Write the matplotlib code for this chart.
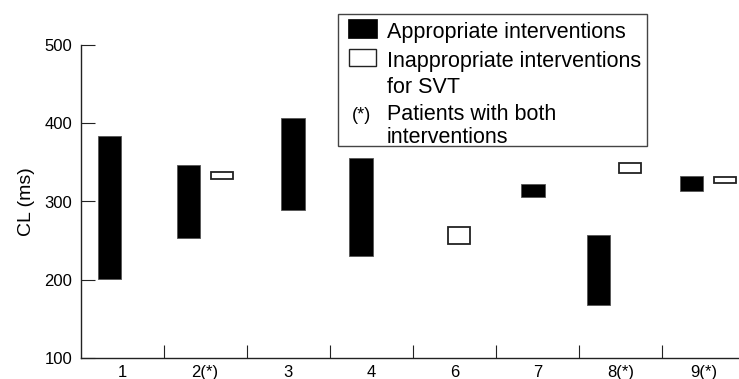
import matplotlib.pyplot as plt
from matplotlib.patches import Rectangle

plt.rcParams["font.family"] = ["Liberation Sans", "DejaVu Sans"]

W, H = 739, 379

categories = ["1", "2(*)", "3", "4", "6", "7", "8(*)", "9(*)"]

# appropriate interventions: (low, high) CL in ms, None where absent
appropriate = [
    (201, 384),
    (253, 346),
    (289, 407),
    (231, 355),
    None,
    (306, 322),
    (168, 257),
    (314, 332),
]
# inappropriate interventions for SVT
inappropriate = [
    None,
    (328.5, 338),
    None,
    None,
    (246, 267),
    None,
    (336, 349),
    (324, 331.5),
]

# horizontal placement of each box inside its patient slot (layout only)
appr_offset = [0.35, 0.30, 0.555, 0.375, None, 0.447, 0.236, 0.354]
inap_offset = [None, 0.706, None, None, 0.553, None, 0.610, 0.758]

fig = plt.figure(figsize=(W / 100, H / 100), dpi=100)
ax = fig.add_axes([80.5 / W, 20.7 / H, 664.5 / W, 313.6 / H])

for i, (rng, off) in enumerate(zip(appropriate, appr_offset)):
    if rng is None:
        continue
    lo, hi = rng
    ax.bar(i + off, hi - lo, bottom=lo, width=0.285, color="black",
           edgecolor="#555555", linewidth=0.6, zorder=3)

for i, (rng, off) in enumerate(zip(inappropriate, inap_offset)):
    if rng is None:
        continue
    lo, hi = rng
    ax.bar(i + off, hi - lo, bottom=lo, width=0.265, color="white",
           edgecolor="#222222", linewidth=1.3, zorder=3)

ax.set_xlim(0, len(categories))
ax.set_ylim(100, 500)
ax.set_yticks([100, 200, 300, 400, 500])
ax.set_xticks(range(1, len(categories)))
ax.set_xticklabels([])
ax.set_xticks([i + 0.5 for i in range(len(categories))], minor=True)
ax.set_xticklabels(categories, minor=True)

ax.tick_params(axis="y", direction="in", length=10, width=0.8, pad=6,
               labelsize=12, color="#222222")
ax.tick_params(axis="x", which="major", direction="in", length=9.4,
               width=0.8, color="#222222")
ax.tick_params(axis="x", which="minor", length=0, pad=4.5, labelsize=12)

for side in ("top", "right"):
    ax.spines[side].set_visible(False)
for side in ("left", "bottom"):
    ax.spines[side].set_linewidth(1.0)
    ax.spines[side].set_color("#222222")

ax.set_ylabel("CL (ms)", fontsize=14)
ax.yaxis.set_label_coords((35.5 - 80.5) / 664.5, 0.5)


def fx(x):
    return x / W


def fy(y):
    return 1 - y / H


# legend box, drawn in figure pixels
fig.add_artist(Rectangle((fx(338.3), fy(145.7)), (647.3 - 338.3) / W,
                         (145.7 - 14) / H, transform=fig.transFigure,
                         facecolor="white", edgecolor="#444444",
                         linewidth=1.0, zorder=5))
fig.add_artist(Rectangle((fx(348), fy(38.3)), 28.5 / W, 19 / H,
                         transform=fig.transFigure, facecolor="black",
                         edgecolor="black", linewidth=0.5, zorder=6))
fig.add_artist(Rectangle((fx(348.5), fy(66.2)), 27.5 / W, 16.7 / H,
                         transform=fig.transFigure, facecolor="white",
                         edgecolor="#222222", linewidth=1.0, zorder=6))

legend_lines = [
    ("Appropriate interventions", 38.3),
    ("Inappropriate interventions", 67.3),
    ("for SVT", 92.7),
    ("Patients with both", 120),
    ("interventions", 143.3),
]
for txt, base in legend_lines:
    fig.text(fx(386.7), fy(base), txt, fontsize=15.5, va="baseline",
             ha="left", zorder=7)
fig.text(fx(351.5), fy(120), "(*)", fontsize=13, va="baseline", ha="left",
         zorder=7)

fig.savefig("out.png", dpi=100)
